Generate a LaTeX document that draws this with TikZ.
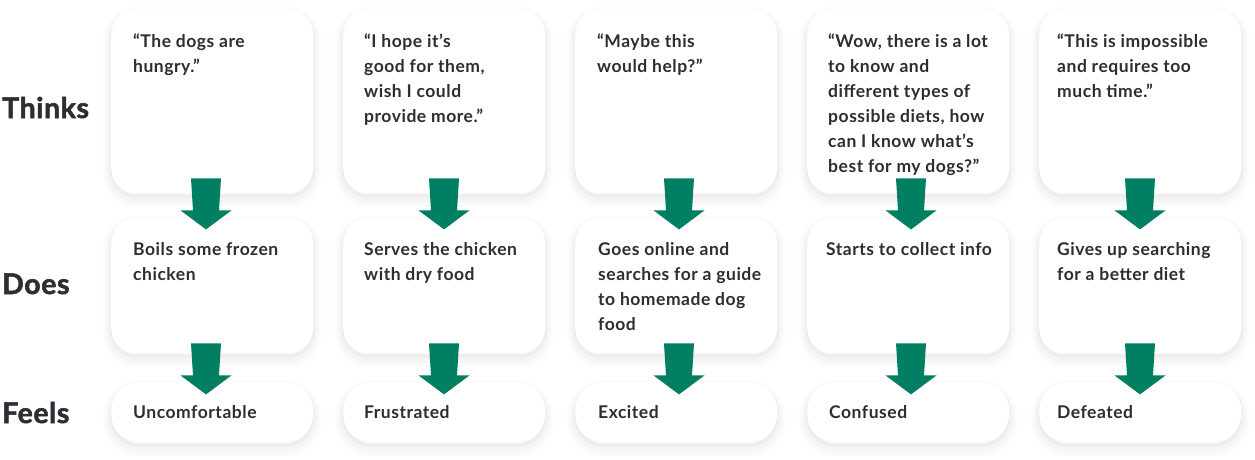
\documentclass[tikz,border=0pt]{standalone}
\usepackage{fontspec}
\setmainfont{Lato}[LetterSpace=3]
\newfontfamily\heavyfont[FakeBold=1.8,LetterSpace=2]{Lato}
\usetikzlibrary{calc}
\definecolor{ink}{HTML}{2B2E33}
\definecolor{arrgreen}{HTML}{007F63}
\tikzset{
  card/.style={fill=white, draw=none, anchor=north west, inner sep=0pt, minimum width=202pt,
    preaction={draw=black, draw opacity=0.016, line width=16pt, transform canvas={yshift=-6pt}},
    preaction={draw=black, draw opacity=0.022, line width=9pt, transform canvas={yshift=-5pt}},
    preaction={draw=black, draw opacity=0.03, line width=3pt, transform canvas={yshift=-3pt}}},
  thinkbox/.style={card, minimum height=184pt, rounded corners=25pt},
  doesbox/.style={card, minimum height=135pt, rounded corners=25pt},
  feelbox/.style={card, minimum height=60pt, rounded corners=28pt},
  txt/.style={text=ink, font=\bfseries\fontsize{17.5}{25}\selectfont, align=left, inner sep=0pt, anchor=north west},
  feeltxt/.style={text=ink, font=\bfseries\fontsize{17.5}{25}\selectfont, inner sep=0pt, anchor=base west},
  rowlabel/.style={text=ink, font=\heavyfont\bfseries\fontsize{28.5}{30}\selectfont, inner sep=0pt, anchor=base west},
  arr/.style={fill=arrgreen, draw=none},
}
\newcommand\flowarrow[3]{% #1 upper node, #2 x-coordinate name, #3 offset above bottom
  \path (#2 |- #1.south) ++(0,-#3) coordinate (T);
  \fill[arr] (T) ++(-15,0) -- ++(30,0) -- ++(-2,32) -- ++(12.5,0) -- ++(-25.5,19) -- ++(-25.5,-19) -- ++(12.5,0) -- cycle;
}
\begin{document}
\begin{tikzpicture}[x=1pt,y=-1pt]
\useasboundingbox[fill=white] (0,0) rectangle (1255,459);

% row labels
\node[rowlabel] (lt) at (2,118) {Thinks};
\node[rowlabel] (ld) at (2,294) {Does};
\node[rowlabel] (lf) at (2,423) {Feels};

% column anchors for arrows
\coordinate (ax1) at (206,0);
\coordinate (ax2) at (444,0);
\coordinate (ax3) at (679,0);
\coordinate (ax4) at (911,0);
\coordinate (ax5) at (1140,0);

% boxes
\foreach \i/\x in {1/111,2/343,3/575,4/807,5/1039}{
  \node[thinkbox] (t\i) at (\x,9) {};
  \node[doesbox] (d\i) at (\x,218) {};
  \node[feelbox] (f\i) at (\x,382) {};
}

% Thinks texts
\node[txt] (tt1) at ([shift={(22,20.5)}]t1.north west) {\strut “The dogs are\\hungry.”};
\node[txt] (tt2) at ([shift={(21,20.5)}]t2.north west) {\strut “I hope it’s\\good for them,\\wish I could\\provide more.”};
\node[txt] (tt3) at ([shift={(22,20.5)}]t3.north west) {\strut “Maybe this\\would help?”};
\node[txt] (tt4) at ([shift={(21,20.5)}]t4.north west) {\strut “Wow, there is a lot\\to know and\\different types of\\possible diets, how\\can I know what’s\\best for my dogs?”};
\node[txt] (tt5) at ([shift={(18,20.5)}]t5.north west) {\strut “This is impossible\\and requires too\\much time.”};

% Does texts
\node[txt] (dt1) at ([shift={(22,19.5)}]d1.north west) {\strut Boils some frozen\\chicken};
\node[txt] (dt2) at ([shift={(21,19.5)}]d2.north west) {\strut Serves the chicken\\with dry food};
\node[txt] (dt3) at ([shift={(23,19.5)}]d3.north west) {\strut Goes online and\\searches for a guide\\to homemade dog\\food};
\node[txt] (dt4) at ([shift={(19,19.5)}]d4.north west) {\strut Starts to collect info};
\node[txt] (dt5) at ([shift={(18,19.5)}]d5.north west) {\strut Gives up searching\\for a better diet};

% Feels texts
\node[feeltxt] (ft1) at ([shift={(22,6)}]f1.west) {Uncomfortable};
\node[feeltxt] (ft2) at ([shift={(21,6)}]f2.west) {Frustrated};
\node[feeltxt] (ft3) at ([shift={(23,6)}]f3.west) {Excited};
\node[feeltxt] (ft4) at ([shift={(22,6)}]f4.west) {Confused};
\node[feeltxt] (ft5) at ([shift={(18,6)}]f5.west) {Defeated};

% arrows
\foreach \i in {1,...,5}{
  \flowarrow{t\i}{ax\i}{15}
  \flowarrow{d\i}{ax\i}{10}
}
\end{tikzpicture}
\end{document}
